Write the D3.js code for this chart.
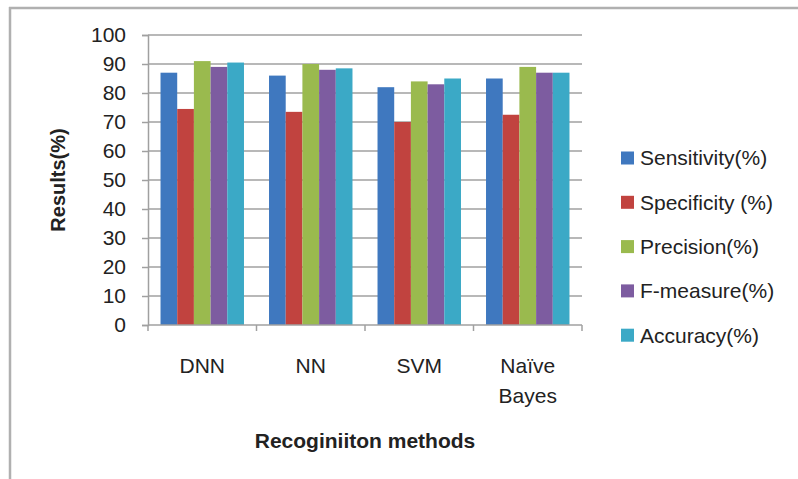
<!DOCTYPE html>
<html>
<head>
<meta charset="utf-8">
<script src="https://cdn.jsdelivr.net/npm/d3@7"></script>
<style>
  body { margin: 0; background: #fff; }
  svg { display: block; font-family: "Liberation Sans", Arial, sans-serif; }
</style>
</head>
<body>
<svg width="798" height="479"></svg>
<script>
const methods = ["DNN", "NN", "SVM", "Naïve Bayes"];
const seriesNames = ["Sensitivity(%)", "Specificity (%)", "Precision(%)", "F-measure(%)", "Accuracy(%)"];
const sensitivity = [87, 86, 82, 85];
const specificity = [74.5, 73.5, 70, 72.5];
const precision = [91, 90, 84, 89];
const fmeasure = [89, 88, 83, 87];
const accuracy = [90.5, 88.5, 85, 87];
const yTicks = [0, 10, 20, 30, 40, 50, 60, 70, 80, 90, 100];
const colors = ["#3f78bf", "#c1433f", "#9aba4e", "#7d5ca0", "#3ba9c6"];

const seriesValues = [sensitivity, specificity, precision, fmeasure, accuracy];

(function () {
  const margin = { top: 35, left: 148 },
        width = 434,
        height = 290;

  const svg = d3.select("svg");

  // outer frame (top and left edges only)
  svg.append("line").attr("x1", 9).attr("x2", 798).attr("y1", 8).attr("y2", 8)
    .attr("stroke", "#b0b0b0").attr("stroke-width", 2.5);
  svg.append("line").attr("x1", 10).attr("x2", 10).attr("y1", 7).attr("y2", 479)
    .attr("stroke", "#b0b0b0").attr("stroke-width", 2.5);

  const g = svg.append("g")
    .attr("transform", `translate(${margin.left}, ${margin.top})`);

  const x0 = d3.scaleBand()
    .domain(methods)
    .range([0, width])
    .paddingInner(0)
    .paddingOuter(0);

  // gap between groups is 1.5 bar widths
  const x1 = d3.scaleBand()
    .domain(seriesNames)
    .range([0, x0.bandwidth()])
    .paddingInner(0)
    .paddingOuter(0.75);

  const y = d3.scaleLinear()
    .domain([0, 100])
    .range([height, 0]);

  // gridlines
  g.selectAll(".grid")
    .data(yTicks.filter(t => t > 0))
    .enter()
    .append("line")
    .attr("x1", 0)
    .attr("x2", width)
    .attr("y1", d => y(d))
    .attr("y2", d => y(d))
    .attr("stroke", "#a0a0a0")
    .attr("stroke-width", 1.5);

  // bars
  const data = [];
  methods.forEach((m, i) => {
    seriesNames.forEach((s, j) => {
      data.push({ method: m, series: s, value: seriesValues[j][i], color: colors[j] });
    });
  });

  g.selectAll(".bar")
    .data(data)
    .enter()
    .append("rect")
    .attr("x", d => x0(d.method) + x1(d.series))
    .attr("y", d => y(d.value))
    .attr("width", x1.bandwidth())
    .attr("height", d => height - y(d.value))
    .attr("fill", d => d.color);

  // Y axis
  const yAxis = g.append("g")
    .call(d3.axisLeft(y).tickValues(yTicks).tickSize(6).tickPadding(16));
  yAxis.select(".domain").attr("stroke", "#a0a0a0").attr("stroke-width", 1.5);
  yAxis.selectAll(".tick line").attr("stroke", "#a0a0a0").attr("stroke-width", 1.5);
  yAxis.selectAll("text")
    .style("font-size", "21px")
    .style("fill", "#222");

  // X axis line and group ticks
  g.append("line")
    .attr("x1", 0).attr("x2", width)
    .attr("y1", height).attr("y2", height)
    .attr("stroke", "#a0a0a0").attr("stroke-width", 1.5);
  const bounds = methods.map(m => x0(m)).concat([width]);
  g.selectAll(".xtick")
    .data(bounds)
    .enter()
    .append("line")
    .attr("x1", d => d).attr("x2", d => d)
    .attr("y1", height).attr("y2", height + 6)
    .attr("stroke", "#a0a0a0").attr("stroke-width", 1.5);

  // category labels
  g.selectAll(".cat")
    .data(methods)
    .enter()
    .append("text")
    .attr("x", d => x0(d) + x0.bandwidth() / 2)
    .attr("y", height + 48)
    .attr("text-anchor", "middle")
    .style("font-size", "21px")
    .style("fill", "#222")
    .each(function (d) {
      const words = d.split(" ");
      const t = d3.select(this);
      words.forEach((w, i) => {
        t.append("tspan")
          .attr("x", x0(d) + x0.bandwidth() / 2)
          .attr("dy", i === 0 ? 0 : 30)
          .text(w);
      });
    });

  // X title
  g.append("text")
    .attr("x", width / 2)
    .attr("y", 413)
    .attr("text-anchor", "middle")
    .style("font-size", "21px")
    .style("font-weight", "bold")
    .style("fill", "#222")
    .text("Recoginiiton methods");

  // Y title
  svg.append("text")
    .attr("transform", `translate(65, ${margin.top + height / 2}) rotate(-90)`)
    .attr("text-anchor", "middle")
    .style("font-size", "20px")
    .style("font-weight", "bold")
    .style("fill", "#222")
    .text("Results(%)");

  // legend
  const legend = svg.append("g").attr("transform", "translate(621, 158)");
  const item = legend.selectAll(".item")
    .data(seriesNames)
    .enter()
    .append("g")
    .attr("transform", (d, i) => `translate(0, ${i * 44.3})`);
  item.append("rect")
    .attr("x", 0).attr("y", -6.5)
    .attr("width", 13).attr("height", 13)
    .attr("fill", (d, i) => colors[i]);
  item.append("text")
    .attr("x", 19)
    .attr("y", 0)
    .attr("dy", "0.35em")
    .style("font-size", "21px")
    .style("fill", "#222")
    .text(d => d);
})();
</script>
</body>
</html>
